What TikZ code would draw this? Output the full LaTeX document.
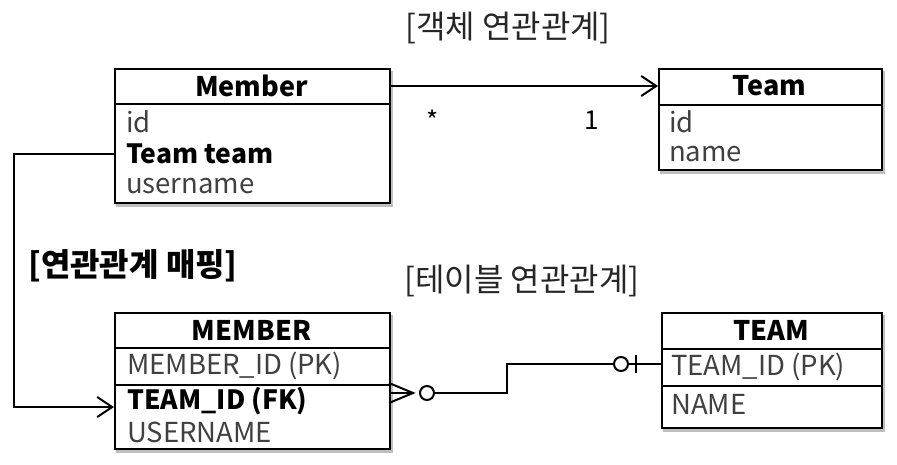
\documentclass[tikz,border=0pt]{standalone}
\usepackage{fontspec}
\setmainfont{Noto Sans CJK KR}
\usetikzlibrary{arrows.meta,calc}
\begin{document}
\begin{tikzpicture}[x=1pt,y=-1pt,
  tbox/.style={draw=black,line width=2pt,fill=white,anchor=north west,inner sep=0pt,
    preaction={draw=black!25,fill=black!25,line width=2pt,transform canvas={shift={(2pt,-3pt)}}}},
  sep/.style={line width=2pt},
  head/.style={font=\bfseries\fontsize{27}{27}\selectfont,text=black},
  row/.style={font=\fontsize{27.5}{27.5}\selectfont,text=black!75,anchor=west,inner sep=0pt},
  brow/.style={row,font=\bfseries\fontsize{26.5}{26.5}\selectfont,text=black},
  title/.style={font=\fontsize{32}{32}\selectfont,text=black!85},
  conn/.style={line width=2pt},
  open/.style={-{Straight Barb[length=15pt,width=20pt,line width=2pt]}},
  ring/.style={circle,draw=black,line width=2pt,fill=white,minimum size=14pt,inner sep=0pt}
]
\useasboundingbox (0,0) rectangle (897,465);

% ---- object model ----
\node[tbox,minimum width=275pt,minimum height=134pt] (member) at (114,68) {};
\draw[sep] (114,104) -- (389,104);
\node[head] (mh) at (251.5,86) {Member};
\node[row] (mid) at (126,122) {id};
\node[brow] (mtt) at (126,154) {Team team};
\node[row] (mun) at (126,186) {username};

\node[tbox,minimum width=223pt,minimum height=101pt] (team) at (658,68) {};
\draw[sep] (658,105) -- (881,105);
\node[head] (th) at (769.5,86) {Team};
\node[row] (tid) at (669,122) {id};
\node[row] (tnm) at (669,154) {name};

\draw[conn,open] (mh -| member.east) -- (mh -| team.west);
\node[font=\fontsize{26}{26}\selectfont] (star) at (433,120) {*};
\node[font=\fontsize{26}{26}\selectfont] (one) at (592,120) {1};

\node[title] (t1) at (508,28) {[객체 연관관계]};

% ---- table model ----
\node[tbox,minimum width=275pt,minimum height=136pt] (MEM) at (114,312) {};
\draw[sep] (114,348) -- (389,348);
\draw[sep] (114,385) -- (389,385);
\node[head] (MH) at (251.5,330) {MEMBER};
\node[row] (MID) at (127,366) {MEMBER\_ID (PK)};
\node[brow] (FK) at (127,401) {TEAM\_ID (FK)};
\node[row] (MUN) at (127,432) {USERNAME};

\node[tbox,minimum width=220pt,minimum height=115pt] (TEAM) at (661,312) {};
\draw[sep] (661,349) -- (881,349);
\draw[sep] (661,386) -- (881,386);
\node[head] (TH) at (771,330) {TEAM};
\node[row] (TID) at (671,367) {TEAM\_ID (PK)};
\node[row] (TNM) at (671,404) {NAME};

\node[title] (t2) at (522,281) {[테이블 연관관계]};
\node[title,font=\bfseries\fontsize{32}{32}\selectfont,text=black] (t3) at (133,266) {[연관관계 매핑]};

% mapping arrow
\coordinate (fkin) at (114,407);
\draw[conn,open] (member.west |- mtt) -- (14,154) |- (fkin);

% ER connector
\coordinate (cf) at (413,393);
\draw[conn] (389,383) -- (cf) -- (389,403);
\draw[conn] (389,393) -- (cf);
\node[ring] (c1) at (427,393) {};
\node[ring] (c2) at (621,364) {};
\draw[conn] (c1.east) -- (507,393) |- (c2.west);
\draw[conn] (c2.east) -- (TEAM.west |- c2);
\draw[conn] (636,355) -- (636,373);
\end{tikzpicture}
\end{document}
